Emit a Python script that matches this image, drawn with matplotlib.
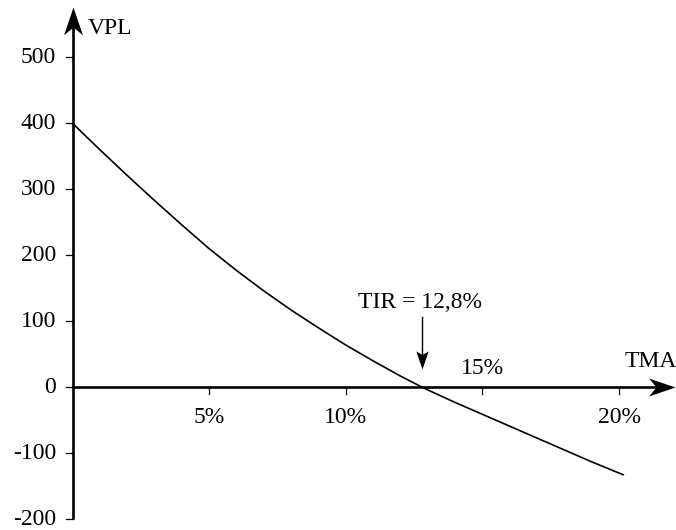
import matplotlib
matplotlib.use("Agg")
import matplotlib.pyplot as plt
import numpy as np
from matplotlib.path import Path

plt.rcParams['font.family'] = ['Liberation Serif', 'DejaVu Serif']

# VPL curve (TMA in %, VPL)
tma = [0, 1, 2, 3, 4, 5, 6, 7, 8, 9, 10, 11, 12, 12.8, 13, 14, 15, 16, 17, 18, 19, 20, 20.15]
vpl = [400, 360, 321, 283, 246, 210, 177, 146, 117, 90, 64, 40, 17, 0, -4, -23, -41, -59, -77, -95, -113, -130, -132.5]

y_ticks = [-200, -100, 0, 100, 200, 300, 400, 500]
x_ticks = [5, 10, 15, 20]
x_labels = ["5%", "10%", "15%", "20%"]
tir = 12.8


def arrow_marker(angle, notch=0.72):
    # stealth-like arrowhead pointing to +x, tip at origin
    pts = np.array([[0, 0], [-1, 0.34], [-notch, 0], [-1, -0.34], [0, 0]])
    a = np.deg2rad(angle)
    rot = np.array([[np.cos(a), -np.sin(a)], [np.sin(a), np.cos(a)]])
    pts = pts @ rot.T
    return Path(pts, [Path.MOVETO, Path.LINETO, Path.LINETO, Path.LINETO, Path.CLOSEPOLY])


fig = plt.figure(figsize=(6.76, 5.30), dpi=100)
ax = fig.add_axes([0, 0, 1, 1])
ax.set_xlim(-2.653, 22.08)
ax.set_ylim(-216.2, 586.8)
ax.axis("off")

# axes
ax.plot([0, 0], [-200, 560], color="black", lw=1.9, solid_capstyle="butt")
ax.plot([0], [576], marker=arrow_marker(90), color="black", markersize=40, markeredgewidth=0)
ax.plot([0, 21.5], [0, 0], color="black", lw=1.9, solid_capstyle="butt")
ax.plot([22.03], [0], marker=arrow_marker(0), color="black", markersize=38, markeredgewidth=0)

# y ticks
for v in y_ticks:
    ax.plot([-0.22, 0], [v, v], color="black", lw=0.9)
    ax.text(-0.6, v, str(v), ha="right", va="center", fontsize=17)

# x ticks
for v, lab in zip(x_ticks, x_labels):
    ax.plot([v, v], [0, -10], color="black", lw=0.9)
    if v == 15:
        ax.text(v, 29, lab, ha="center", va="center", fontsize=17)
    else:
        ax.text(v, -46.5, lab, ha="center", va="center", fontsize=17)

# curve
ax.plot(tma, vpl, color="black", lw=1.2)

# labels
ax.text(0.57, 543, "VPL", ha="left", va="center", fontsize=17)
ax.text(22.1, 38.5, "TMA", ha="right", va="center", fontsize=17)
ax.text(tir - 0.1, 129, "TIR = 12,8%", ha="center", va="center", fontsize=17)
ax.plot([tir, tir], [107, 40], color="black", lw=1.0)
ax.plot([tir], [28], marker=arrow_marker(-90, 0.8), color="black", markersize=26, markeredgewidth=0)

fig.savefig("out.png", dpi=100)
